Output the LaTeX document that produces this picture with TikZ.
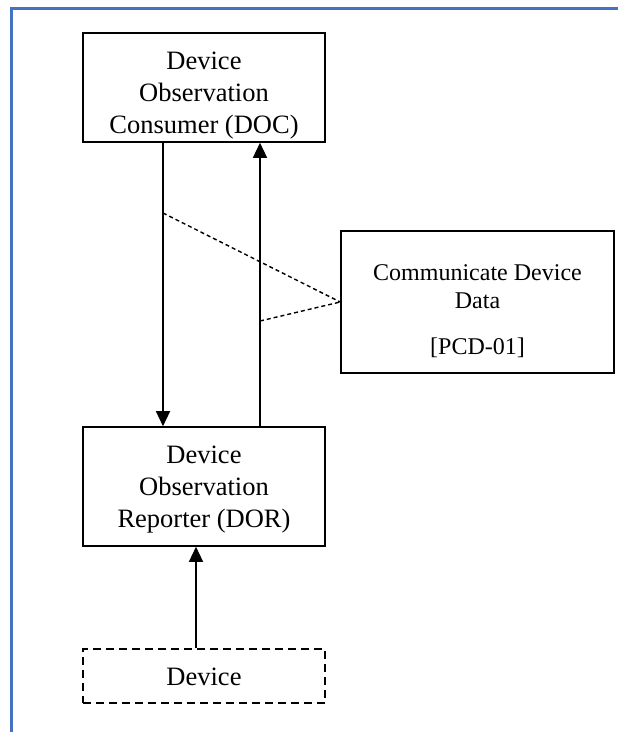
\documentclass[tikz,border=0pt]{standalone}
\usepackage{fontspec}
\setmainfont{Liberation Serif}
\usetikzlibrary{arrows.meta}

\begin{document}
\begin{tikzpicture}[x=1pt,y=-1pt,
  every node/.style={font=\fontsize{26.5}{32}\selectfont},
  actorbox/.style={draw,line width=1.6pt,align=center,inner xsep=0pt,inner ysep=0pt,minimum width=242pt},
  flow/.style={line width=1.4pt,-{Triangle[length=15pt,width=14pt]}},
  assoc/.style={line width=1.4pt,dash pattern=on 4pt off 3pt}]
\useasboundingbox (0,0) rectangle (618,732);
\draw[line width=3pt,color={rgb,255:red,68;green,114;blue,196}] (11,732) -- (11,8) -- (618,8);
\node[actorbox,text height=100pt,text depth=9pt] (doc) at (204,87.5) {Device\\Observation\\Consumer (DOC)};
\node[actorbox,text height=100pt,text depth=19pt] (dor) at (204,486.5) {Device\\Observation\\Reporter (DOR)};
\node[actorbox,dash pattern=on 8pt off 5pt,line width=1.4pt,text height=36pt,text depth=18pt] (dev) at (204,676) {Device};
\node[actorbox,minimum width=273pt,text height=123pt,text depth=19pt,font=\fontsize{24}{28}\selectfont] (cdd) at (477.5,302) {Communicate Device\\Data\\[18pt][PCD-01]};
\draw[flow] ([xshift=-41pt]doc.south) -- ([xshift=-41pt]dor.north);
\draw[flow] ([xshift=56pt]dor.north) -- ([xshift=56pt]doc.south);
\draw[flow] ([xshift=-8pt]dev.north) -- ([xshift=-8pt]dor.south);
\coordinate (tapdown) at (163,213);
\coordinate (tapup) at (260,321);
\draw[assoc] (tapdown) -- (cdd.west);
\draw[assoc] (tapup) -- (cdd.west);
\end{tikzpicture}
\end{document}
